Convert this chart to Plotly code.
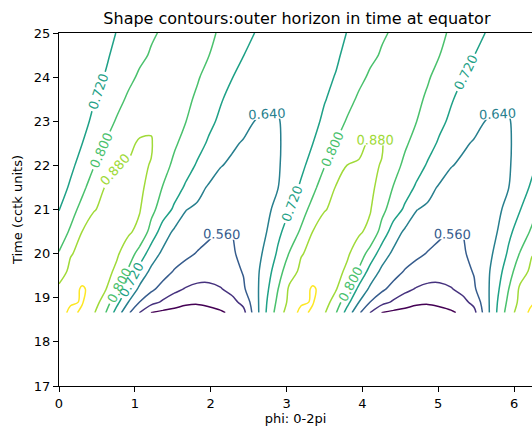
import plotly.graph_objects as go

# ---- data (one period in phi, repeated) ----
PERIOD = 3.04
PHI = [0.000, 0.152, 0.304, 0.456, 0.608, 0.760, 0.912, 1.064, 1.216, 1.368,
       1.520, 1.672, 1.824, 1.976, 2.128, 2.280, 2.432, 2.584, 2.736, 2.888]
TIME = [18.66, 18.9, 19.2, 19.6, 20.0, 20.5, 21.0, 21.5, 22.0, 22.5,
        23.0, 23.5, 24.0, 24.5, 25.0]

z_t1866 = [0.920, 0.980, 0.947, 0.889, 0.807, 0.687, 0.574, 0.477, 0.398, 0.380,
           0.370, 0.365, 0.370, 0.380, 0.390, 0.414, 0.455, 0.599, 0.725, 0.842]
z_t1890 = [0.900, 0.950, 0.965, 0.913, 0.847, 0.744, 0.641, 0.558, 0.508, 0.469,
           0.440, 0.415, 0.408, 0.415, 0.430, 0.455, 0.503, 0.605, 0.717, 0.820]
z_t1920 = [0.893, 0.930, 0.968, 0.940, 0.887, 0.811, 0.702, 0.625, 0.575, 0.535,
           0.499, 0.475, 0.458, 0.458, 0.475, 0.505, 0.551, 0.612, 0.703, 0.799]
z_t1960 = [0.848, 0.895, 0.925, 0.940, 0.905, 0.866, 0.791, 0.689, 0.624, 0.591,
           0.555, 0.535, 0.525, 0.520, 0.525, 0.540, 0.564, 0.615, 0.683, 0.767]
z_t2000 = [0.805, 0.876, 0.895, 0.915, 0.910, 0.890, 0.844, 0.769, 0.679, 0.625,
           0.600, 0.574, 0.556, 0.548, 0.546, 0.553, 0.575, 0.612, 0.658, 0.733]
z_t2050 = [0.757, 0.810, 0.880, 0.895, 0.905, 0.900, 0.890, 0.862, 0.772, 0.682,
           0.628, 0.610, 0.590, 0.568, 0.558, 0.561, 0.586, 0.613, 0.639, 0.702]
z_t2100 = [0.718, 0.771, 0.823, 0.878, 0.887, 0.894, 0.893, 0.884, 0.822, 0.762,
           0.707, 0.642, 0.628, 0.614, 0.600, 0.588, 0.582, 0.590, 0.620, 0.669]
z_t2150 = [0.686, 0.731, 0.782, 0.835, 0.883, 0.888, 0.890, 0.889, 0.865, 0.797,
           0.754, 0.710, 0.663, 0.632, 0.615, 0.603, 0.597, 0.598, 0.613, 0.639]
z_t2200 = [0.667, 0.704, 0.747, 0.796, 0.837, 0.881, 0.885, 0.887, 0.878, 0.827,
           0.785, 0.749, 0.712, 0.677, 0.643, 0.630, 0.620, 0.615, 0.617, 0.634]
z_t2250 = [0.656, 0.687, 0.719, 0.760, 0.802, 0.834, 0.866, 0.888, 0.884, 0.842,
           0.810, 0.777, 0.744, 0.711, 0.680, 0.649, 0.635, 0.628, 0.626, 0.635]
z_t2300 = [0.655, 0.679, 0.693, 0.736, 0.771, 0.806, 0.835, 0.855, 0.872, 0.866,
           0.835, 0.801, 0.768, 0.736, 0.708, 0.683, 0.659, 0.639, 0.632, 0.637]
z_t2350 = [0.660, 0.684, 0.700, 0.714, 0.746, 0.778, 0.810, 0.830, 0.848, 0.852,
           0.840, 0.815, 0.789, 0.758, 0.726, 0.700, 0.680, 0.662, 0.648, 0.648]
z_t2400 = [0.665, 0.675, 0.688, 0.705, 0.723, 0.754, 0.783, 0.810, 0.828, 0.838,
           0.838, 0.826, 0.806, 0.779, 0.750, 0.722, 0.700, 0.682, 0.670, 0.664]
z_t2450 = [0.672, 0.678, 0.688, 0.698, 0.710, 0.735, 0.760, 0.786, 0.806, 0.820,
           0.826, 0.822, 0.812, 0.801, 0.774, 0.747, 0.721, 0.700, 0.686, 0.677]
z_t2500 = [0.678, 0.682, 0.690, 0.698, 0.708, 0.721, 0.744, 0.768, 0.792, 0.807,
           0.815, 0.818, 0.815, 0.808, 0.795, 0.769, 0.745, 0.719, 0.700, 0.685]

ROWS = [z_t1866, z_t1890, z_t1920, z_t1960, z_t2000, z_t2050, z_t2100, z_t2150,
        z_t2200, z_t2250, z_t2300, z_t2350, z_t2400, z_t2450, z_t2500]

LEVELS = [0.40, 0.48, 0.56, 0.64, 0.72, 0.80, 0.88, 0.96]
LEVEL_COLORS = ["#440154", "#46327e", "#365c8d", "#277f8e",
                "#1fa187", "#4ac16d", "#a0da39", "#fde725"]
X_TICKS = [0, 1, 2, 3, 4, 5, 6]
Y_TICKS = [17, 18, 19, 20, 21, 22, 23, 24, 25]

# ---- build the periodic grid ----
N_PER = 3
x = [p + k * PERIOD for k in range(N_PER) for p in PHI]
z = [row * N_PER for row in ROWS]

FONT = "DejaVu Sans"

fig = go.Figure()
for lev, col in zip(LEVELS, LEVEL_COLORS):
    fig.add_trace(go.Contour(
        x=x, y=TIME, z=z,
        autocontour=False,
        contours=dict(coloring="lines", start=lev, end=lev, size=0.08,
                      showlabels=True, labelformat=".3f",
                      labelfont=dict(family=FONT, size=13, color=col)),
        colorscale=[[0, col], [1, col]],
        showscale=False,
        line=dict(width=1.5, smoothing=1),
        hoverinfo="skip",
    ))

fig.update_layout(
    width=532, height=426,
    margin=dict(l=59, r=0, t=33, b=40, autoexpand=False),
    paper_bgcolor="white", plot_bgcolor="white",
    font=dict(family=FONT, size=13, color="black"),
    title=dict(text="Shape contours:outer horizon in time at equator",
               font=dict(family=FONT, size=16, color="black"),
               xref="paper", x=0.503, xanchor="center",
               yref="container", y=1 - 18 / 426, yanchor="middle"),
    showlegend=False,
)
fig.update_xaxes(range=[0, 6.236], tickvals=X_TICKS, ticks="outside", ticklen=5,
                 tickwidth=1, tickcolor="black", showline=True, linecolor="black",
                 linewidth=1, mirror=True, showgrid=False, zeroline=False,
                 automargin=False,
                 title=dict(text="phi: 0-2pi", standoff=7, font=dict(size=13)))
fig.update_yaxes(range=[17, 25], tickvals=Y_TICKS, ticks="outside", ticklen=5,
                 tickwidth=1, tickcolor="black", showline=True, linecolor="black",
                 linewidth=1, mirror=False, showgrid=False, zeroline=False,
                 automargin=False,
                 title=dict(text="Time (cctk units)", standoff=8, font=dict(size=13)))

fig.write_html("out.html",
               config={"displayModeBar": False, "staticPlot": True},
               post_script="document.body.style.margin='0';"
                           "document.body.style.overflow='hidden';")
